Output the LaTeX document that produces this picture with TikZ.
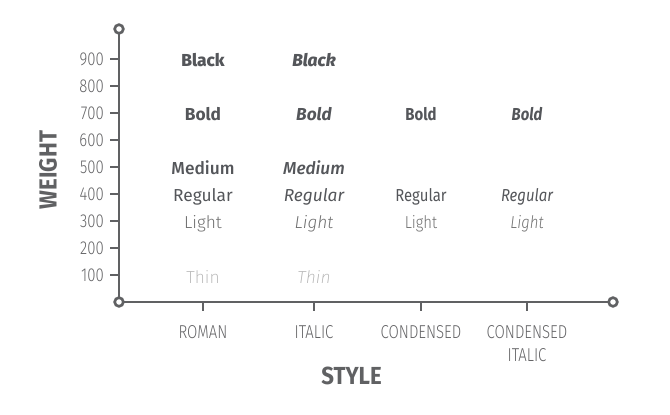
\documentclass[tikz,border=0pt]{standalone}
\usepackage{fontspec}
\usepackage{tikz}
\usetikzlibrary{calc,positioning}
\setmainfont{Fira Sans}
\newfontfamily\wThin{Fira Sans ExtraLight}[ItalicFont={Fira Sans ExtraLight Italic}]
\newfontfamily\wLight{Fira Sans Light}[ItalicFont={Fira Sans Light Italic}]
\newfontfamily\wMedium{Fira Sans Medium}[ItalicFont={Fira Sans Medium Italic}]
\newfontfamily\wBlack{Fira Sans ExtraBold}[ItalicFont={Fira Sans ExtraBold Italic}]
\newfontfamily\condReg{Fira Sans}[FakeStretch=0.86]
\newfontfamily\condLight{Fira Sans Light}[FakeStretch=0.86,ItalicFont={Fira Sans Light Italic}]
\newfontfamily\axisfont{Fira Sans Light}[FakeStretch=0.8]
\newfontfamily\titlefont{Fira Sans Bold}[FakeStretch=0.9]
\definecolor{axgray}{RGB}{96,97,99}
\definecolor{txdark}{RGB}{84,86,90}
\definecolor{tkgray}{RGB}{100,100,102}
\definecolor{ltgray}{RGB}{112,112,112}
\definecolor{thgray}{RGB}{178,178,178}

\begin{document}
\begin{tikzpicture}[x=0.75pt,y=0.75pt,
  axisline/.style={draw=axgray, line width=2.2pt},
  tickline/.style={draw=axgray, line width=1.5pt},
  endcirc/.style={circle, draw=axgray, fill=white, line width=2pt, inner sep=0pt, minimum size=6.5pt},
  ticklabel/.style={text=tkgray, anchor=east, inner sep=0pt, font=\axisfont\fontsize{14}{16}\selectfont},
  stylelabel/.style={text=tkgray, anchor=north, inner sep=0pt, align=center, font=\axisfont\fontsize{14}{17.3}\selectfont},
  axistitle/.style={text=axgray, inner sep=0pt, font=\titlefont\fontsize{18.5}{20}\selectfont},
  wtext/.style={anchor=base, inner sep=0pt, text=txdark, font=\fontsize{13}{15}\selectfont}]
\useasboundingbox (-119,-112) rectangle (551,302);
\coordinate (O) at (0,0);
\coordinate (ytop) at (0,273);
\coordinate (xend) at (494,0);
\draw[axisline] (O) -- (ytop);
\draw[axisline] (O) -- (xend);
\foreach \w in {100,200,...,900}{
  \draw[tickline] (-9,{\w*0.27}) -- (0,{\w*0.27});
  \node[ticklabel] (t\w) at (-15,{\w*0.27}) {\w};
}
\foreach \name/\xc in {roman/84,italic/195,cond/302,conditalic/408}
  \draw[tickline] (\xc,0) coordinate (c\name) -- (\xc,-9);
\node[endcirc] (otop) at (ytop) {};
\node[endcirc] (oend) at (xend) {};
\node[endcirc] (oorig) at (O) {};
\node[stylelabel] (lroman) at ($(croman)+(0,-23)$) {ROMAN};
\node[stylelabel] (litalic) at ($(citalic)+(0,-23)$) {ITALIC};
\node[stylelabel] (lcond) at ($(ccond)+(0,-23)$) {CONDENSED};
\node[stylelabel] (lconditalic) at ($(cconditalic)+(0,-23)$) {CONDENSED\\ITALIC};
\node[axistitle] (styletitle) at (232.5,-73.5) {STYLE};
\node[axistitle, rotate=90] (weighttitle) at (-71,132) {WEIGHT};
\node[wtext] (rblack) at (84,{900*0.27-8}) {\wBlack Black};
\node[wtext] (rbold) at (84,{700*0.27-8}) {\bfseries Bold};
\node[wtext] (rmedium) at (84,{500*0.27-8}) {\wMedium Medium};
\node[wtext] (rregular) at (84,{400*0.27-8}) {Regular};
\node[wtext, text=ltgray] (rlight) at (84,{300*0.27-8}) {\wLight Light};
\node[wtext, text=thgray] (rthin) at (84,{100*0.27-8}) {\wThin Thin};
\node[wtext] (iblack) at (195,{900*0.27-8}) {\wBlack\itshape Black};
\node[wtext] (ibold) at (195,{700*0.27-8}) {\bfseries\itshape Bold};
\node[wtext] (imedium) at (195,{500*0.27-8}) {\wMedium\itshape Medium};
\node[wtext] (iregular) at (195,{400*0.27-8}) {\itshape Regular};
\node[wtext, text=ltgray] (ilight) at (195,{300*0.27-8}) {\wLight\itshape Light};
\node[wtext, text=thgray] (ithin) at (195,{100*0.27-8}) {\wThin\itshape Thin};
\node[wtext] (cbold) at (302,{700*0.27-8}) {\condReg\bfseries Bold};
\node[wtext] (cregular) at (302,{400*0.27-8}) {\condReg Regular};
\node[wtext, text=ltgray] (clight) at (302,{300*0.27-8}) {\condLight Light};
\node[wtext] (cibold) at (408,{700*0.27-8}) {\condReg\bfseries\itshape Bold};
\node[wtext] (ciregular) at (408,{400*0.27-8}) {\condReg\itshape Regular};
\node[wtext, text=ltgray] (cilight) at (408,{300*0.27-8}) {\condLight\itshape Light};
\end{tikzpicture}
\end{document}
